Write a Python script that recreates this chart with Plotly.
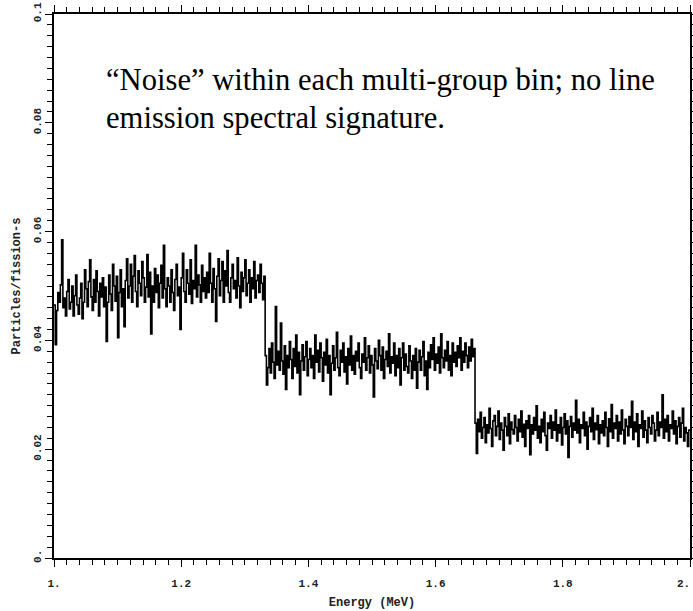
import plotly.graph_objects as go

# Values in units of 1e-4 particles/fission-s (bin width 0.002 MeV)
bin_width = 0.002
seg1_start = 1.000
seg1 = [465, 392, 455, 488, 470, 502, 585, 460, 478, 445,
        490, 512, 458, 470, 500, 445, 482, 520, 465, 448,
        478, 505, 440, 470, 530, 495, 462, 508, 548, 480,
        455, 512, 470, 528, 490, 445, 505, 480, 515, 462,
        498, 398, 470, 520, 485, 455, 540, 500, 472, 518,
        405, 488, 530, 462, 495, 425, 510, 550, 478, 500,
        540, 470, 518, 556, 490, 462, 528, 505, 482, 545,
        515, 470, 498, 558, 480, 525, 412, 500, 470, 532,
        488, 520, 460, 505, 538, 478, 575, 495, 462, 515,
        500, 470, 530, 488, 455, 512, 540, 482, 498, 420,
        515, 560, 490, 470, 530, 505, 485, 548, 468, 510,
        495, 575, 480, 520, 502, 470, 538, 490, 515, 478,
        525, 488, 560, 505, 470, 532, 495, 435, 518, 550,
        482, 510, 545, 470, 528, 500, 565, 488, 470, 515,
        540, 495, 510, 478, 552, 500, 460, 525, 490, 515,
        548, 482, 505, 530, 470, 515, 495, 545, 478, 510,
        520, 488, 540, 505, 475, 518]
seg2_start = 1.332
seg2 = [372, 318, 350, 385, 340, 395, 360, 330, 462, 355,
        380, 345, 432, 362, 338, 390, 310, 372, 350, 398,
        365, 330, 385, 352, 410, 340, 378, 300, 362, 392,
        345, 370, 398, 335, 365, 385, 350, 372, 330, 410,
        360, 382, 342, 395, 368, 325, 378, 355, 402, 340,
        372, 300, 358, 390, 345, 368, 415, 350, 335, 382,
        360, 395, 342, 370, 320, 385, 355, 408, 345, 372,
        338, 380, 362, 395, 350, 330, 375, 360, 405, 345,
        368, 390, 340, 372, 355, 296, 385, 362, 348, 400,
        372, 345, 388, 330, 365, 380, 352, 412, 340, 370,
        358, 395, 335, 372, 350, 385, 318, 368, 395, 345,
        375, 352, 340, 390, 362, 330, 372, 345, 385, 312,
        360, 382, 345, 370, 398, 335, 362, 310, 378, 350,
        392, 365, 405, 345, 375, 358, 388, 340, 412, 368,
        350, 382, 362, 398, 345, 372, 335, 395, 360, 378,
        352, 390, 368, 405, 345, 380, 360, 395, 372, 350,
        388, 362, 402, 370, 385]
seg3_start = 1.662
seg3 = [248, 192, 255, 232, 268, 220, 240, 258, 212, 245,
        230, 275, 238, 205, 252, 262, 225, 242, 270, 218,
        248, 235, 198, 258, 242, 225, 265, 210, 250, 236,
        228, 262, 240, 215, 255, 232, 270, 222, 246, 205,
        252, 238, 262, 190, 245, 228, 258, 235, 280, 220,
        242, 212, 255, 232, 268, 225, 198, 248, 238, 262,
        220, 250, 235, 272, 215, 245, 230, 258, 208, 240,
        265, 228, 252, 185, 242, 260, 222, 248, 235, 290,
        230, 255, 212, 245, 238, 268, 225, 250, 200, 242,
        258, 232, 275, 218, 248, 236, 262, 210, 245, 230,
        252, 225, 268, 240, 205, 256, 232, 282, 220, 248,
        238, 262, 215, 250, 228, 272, 235, 210, 255, 242,
        225, 260, 240, 288, 218, 250, 232, 265, 205, 245,
        238, 270, 222, 252, 235, 212, 258, 240, 228, 262,
        248, 215, 235, 268, 225, 250, 240, 300, 220, 255,
        232, 262, 215, 245, 238, 270, 228, 252, 210, 242,
        258, 222, 248, 275, 215, 240, 230, 205, 235]
x_end = 2.0

x_tick_vals = [1.0, 1.2, 1.4, 1.6, 1.8, 2.0]
x_tick_text = ["1.", "1.2", "1.4", "1.6", "1.8", ""]
x_last_label = "2."
y_tick_vals = [0.0, 0.02, 0.04, 0.06, 0.08, 0.1]
y_tick_text = ["0.", "0.02", "0.04", "0.06", "0.08", "0.1"]

xs, ys = [], []
for start, seg in [(seg1_start, seg1), (seg2_start, seg2), (seg3_start, seg3)]:
    for i, v in enumerate(seg):
        xs.append(start + i * bin_width)
        ys.append(v / 1e4)
xs.append(x_end)
ys.append(ys[-1])

fig = go.Figure()
fig.add_trace(go.Scatter(x=xs, y=ys, mode="lines", line=dict(color="black", width=1.6, shape="hv"),
                         showlegend=False))

mono_family = "Liberation Mono, Courier New, monospace"
tickfont = dict(family=mono_family, size=11, color="#222", weight="bold")
axis_common = dict(showgrid=False, zeroline=False, showline=True, linecolor="black", linewidth=1.5,
                   mirror="ticks", ticks="outside", ticklen=7, tickwidth=1.2, tickcolor="black",
                   tickfont=tickfont, automargin=False, ticklabeloverflow="allow")
fig.update_xaxes(range=[1.0, 2.0], tickvals=x_tick_vals, ticktext=x_tick_text, ticklabelstandoff=7,
                 minor=dict(dtick=0.02, tick0=1.0, ticks="outside", ticklen=5, tickwidth=1.2, tickcolor="black"),
                 title=dict(text="Energy (MeV)", font=dict(family=mono_family, size=12, color="#222", weight="bold"),
                            standoff=9),
                 **axis_common)
fig.update_yaxes(range=[0.0, 0.1], tickvals=y_tick_vals, ticktext=y_tick_text, tickangle=-90,
                 minor=dict(dtick=0.002, tick0=0.0, ticks="outside", ticklen=5, tickwidth=1.2, tickcolor="black"),
                 title=dict(text="Particles/fission-s", font=dict(family=mono_family, size=12, color="#222", weight="bold"),
                            standoff=9),
                 **axis_common)

# plot box at x 54..690, y 14..558 of the 693x611 page (body margin removed below)
L, R, T, B = 54, 3, 14, 53
W, H = 693, 611
pw, ph = W - L - R, H - T - B

# last x tick label, kept inside the page edge
fig.add_annotation(x=x_end, xref="x", y=1 - (584 - T) / ph, yref="paper", text=x_last_label,
                   showarrow=False, font=tickfont, xanchor="right", yanchor="middle", xshift=2)

serif = dict(family="Liberation Serif, Times New Roman, serif", size=30.6, color="black")
texts = [("\u201cNoise\u201d within each multi-group bin; no line", 104, 80),
         ("emission spectral signature.", 104, 118)]
for txt, px, py in texts:
    fig.add_annotation(x=(px - L) / pw, y=1 - (py - T) / ph, xref="paper", yref="paper", text=txt,
                       showarrow=False, font=serif, xanchor="left", yanchor="middle")

fig.update_layout(width=W, height=H, margin=dict(l=L, r=R, t=T, b=B),
                  plot_bgcolor="white", paper_bgcolor="white")
fig.write_html("out.html", config={"displayModeBar": False},
               post_script="document.body.style.margin='0';document.body.style.overflow='hidden';")
